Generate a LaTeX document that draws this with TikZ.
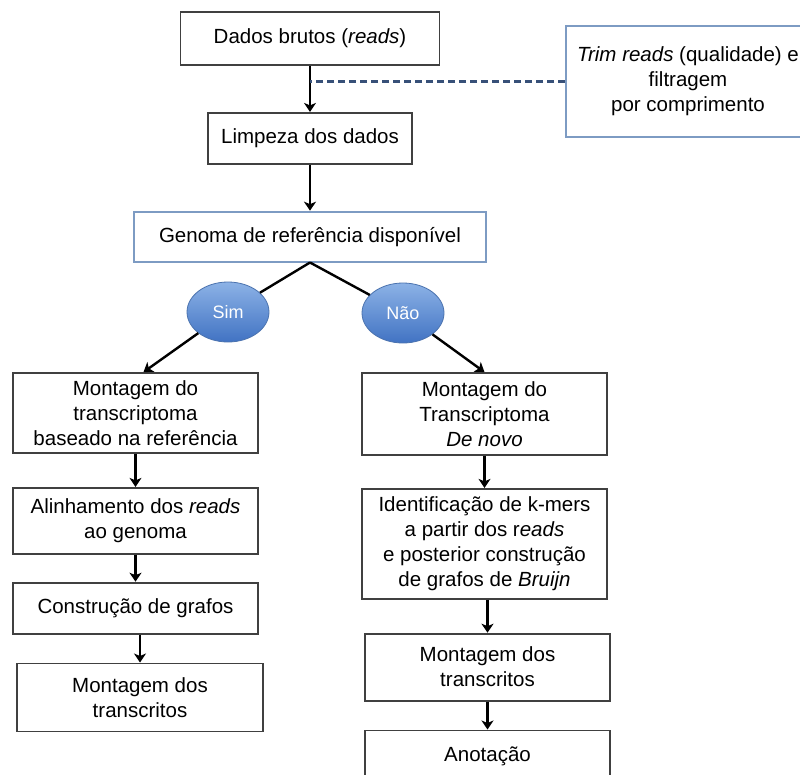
\documentclass[tikz,border=0pt]{standalone}
\usepackage{fontspec}
\setmainfont{Liberation Sans}
\usetikzlibrary{positioning,shapes.geometric,arrows.meta}

\definecolor{keyBorder}{RGB}{125,155,195}
\definecolor{answerBorder}{RGB}{75,115,175}
\definecolor{answerTop}{RGB}{140,178,230}
\definecolor{answerBottom}{RGB}{65,115,195}
\definecolor{linkBlue}{RGB}{55,80,120}

\begin{document}
\begin{tikzpicture}[
        x=1pt, y=-1pt,
        line width=2.4pt,
        >={Stealth[length=9pt,width=12pt,inset=2.5pt]},
        stage/.style={
            % The shape
            rectangle,
            minimum width=245pt,
            inner sep=0pt,
            % The border
            line width=1.8pt,
            draw = black!75,
            % The color
            fill = white,
            text = black,
            % Font
            font = \fontsize{20.5}{25}\selectfont,
            align = center
        },
        keystage/.style={
            stage,
            % The border
            draw = keyBorder
        },
        answer/.style={
            % The shape
            ellipse,
            minimum width=82pt,
            minimum height=60pt,
            inner sep=0pt,
            % The border
            line width=0.8pt,
            draw = answerBorder,
            % The color
            top color = answerTop,
            bottom color = answerBottom,
            text = white,
            % Font
            font = \fontsize{18}{22}\selectfont
        },
        link/.style={
            dash pattern=on 7pt off 4pt,
            line width=2.4pt,
            draw = linkBlue
        },
    ]
        \useasboundingbox[fill=white] (0,0) rectangle (800,774);
        \clip (0,0) rectangle (800,774);

        \node (rawData) [stage,minimum width=259pt,minimum height=53pt] at (310,38.5) {Dados brutos (\textit{reads})};
        \node (dataCleaning) [stage,minimum width=204pt,minimum height=51pt,below=46pt of rawData] {Limpeza dos dados};
        \path (rawData) edge[->] (dataCleaning);

        \node (trimReads) [keystage,minimum width=244pt,minimum height=111pt] at (688,81.5) {\textit{Trim reads} (qualidade) e\\ filtragem\\ por comprimento};
        \draw[link] (trimReads.west) -- (trimReads.west -| rawData.south);

        \node (refGenome) [keystage,minimum width=352pt,minimum height=50pt,below=46pt of dataCleaning] {Genoma de referência disponível};
        \path (dataCleaning) edge[->] (refGenome);

        \node (yesRef) [answer] at (228,312) {Sim};
        \node (noRef) [answer] at (403,313) {Não};
        \path (refGenome.south) edge (yesRef);
        \path (refGenome.south) edge (noRef);

        % Sim
        \node (refAssembly) [stage,minimum height=80pt] at (135.5,413) {Montagem do\\ transcriptoma\\ baseado na referência};
        \path (yesRef) edge[->] ([xshift=8pt]refAssembly.north);

        \node (readAlign) [stage,minimum height=66pt,below=33pt of refAssembly] {Alinhamento dos \textit{reads}\\ ao genoma};
        \path (refAssembly) edge[->] (readAlign);

        \node (graphBuild) [stage,minimum height=51pt,below=27pt of readAlign] {Construção de grafos};
        \path (readAlign) edge[->] (graphBuild);

        \node (refTranscripts) [stage,minimum width=246pt,minimum height=68pt,below=28pt of graphBuild,xshift=4.5pt] {Montagem dos\\ transcritos};
        \path (graphBuild.south -| refTranscripts.north) edge[->] (refTranscripts);

        % Nao
        \node (deNovoAssembly) [stage,minimum height=82pt] at (484.5,414) {Montagem do\\ Transcriptoma\\ \textit{De novo}};
        \path (noRef) edge[->] (deNovoAssembly.north);

        \node (kmerGraph) [stage,minimum height=110pt,below=32pt of deNovoAssembly] {Identificação de k-mers\\ a partir dos r\textit{eads}\\ e posterior construção\\ de grafos de \textit{Bruijn}};
        \path (deNovoAssembly) edge[->] (kmerGraph);

        \node (deNovoTranscripts) [stage,minimum height=67pt,below=33pt of kmerGraph,xshift=3pt] {Montagem dos\\ transcritos};
        \path (kmerGraph.south -| deNovoTranscripts.north) edge[->] (deNovoTranscripts);

        \node (annotation) [stage,minimum height=51pt,below=28pt of deNovoTranscripts] {Anotação};
        \path (deNovoTranscripts) edge[->] (annotation);

    \end{tikzpicture}
\end{document}
